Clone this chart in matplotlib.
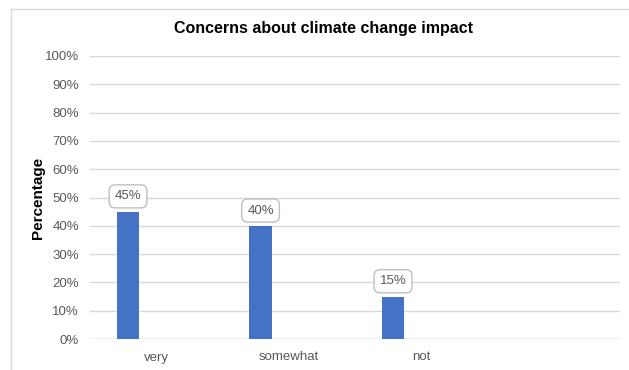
import matplotlib.pyplot as plt
from matplotlib.lines import Line2D

categories = ["very", "somewhat", "not", ""]
shares = [45, 40, 15]  # percent
yticks = list(range(0, 101, 10))

bar_color = "#4472C4"
grid_color = "#D9D9D9"
text_color = "#595959"

plt.rcParams['font.family'] = ['Liberation Sans', 'DejaVu Sans']

fig = plt.figure(figsize=(6.29, 3.70), dpi=100)
# chart frame: only the top and left edges fall inside the image
fig.lines.append(Line2D([11 / 629, 11 / 629], [0, 1 - 9 / 370],
                        transform=fig.transFigure, color="#D9D9D9", lw=1.0))
fig.lines.append(Line2D([11 / 629, 1], [1 - 9 / 370, 1 - 9 / 370],
                        transform=fig.transFigure, color="#D9D9D9", lw=1.0))

ax = fig.add_axes([90 / 629, 1 - 339 / 370, 530 / 629, 283 / 370])

x = list(range(len(shares)))
bar_x = [i - 0.213 for i in x]
bars = ax.bar(bar_x, shares, width=0.17, color=bar_color, zorder=3)

for bx, v in zip(bar_x, shares):
    ax.annotate(f"{v}%", (bx, v), xytext=(0, 11), textcoords="offset points",
                ha="center", va="center", fontsize=9.5, color=text_color,
                bbox=dict(boxstyle="round,pad=0.42,rounding_size=0.45",
                          fc="white", ec="#BFBFBF", lw=1.0), zorder=4)

ax.set_xlim(-0.5, len(categories) - 0.5)
ax.set_ylim(0, 100)
ax.set_xticks(range(len(categories)))
ax.set_xticklabels(categories, fontsize=9.5, color=text_color)
ax.set_yticks(yticks)
ax.set_yticklabels([f"{t}%" for t in yticks], fontsize=9.5, color=text_color)
ax.tick_params(length=0, pad=8)
ax.tick_params(axis="x", pad=9)

ax.grid(axis="y", color=grid_color, linewidth=1.0, zorder=0)
for s in ax.spines.values():
    s.set_visible(False)
ax.axhline(0, color=grid_color, linewidth=1.0, zorder=1)

ax.set_ylabel("Percentage", fontsize=11, fontweight="bold", labelpad=0)
fig.text(323 / 629, 1 - 29 / 370, "Concerns about climate change impact",
         ha="center", va="center", fontsize=11.5, fontweight="bold")

fig.savefig("out.png", dpi=100)
